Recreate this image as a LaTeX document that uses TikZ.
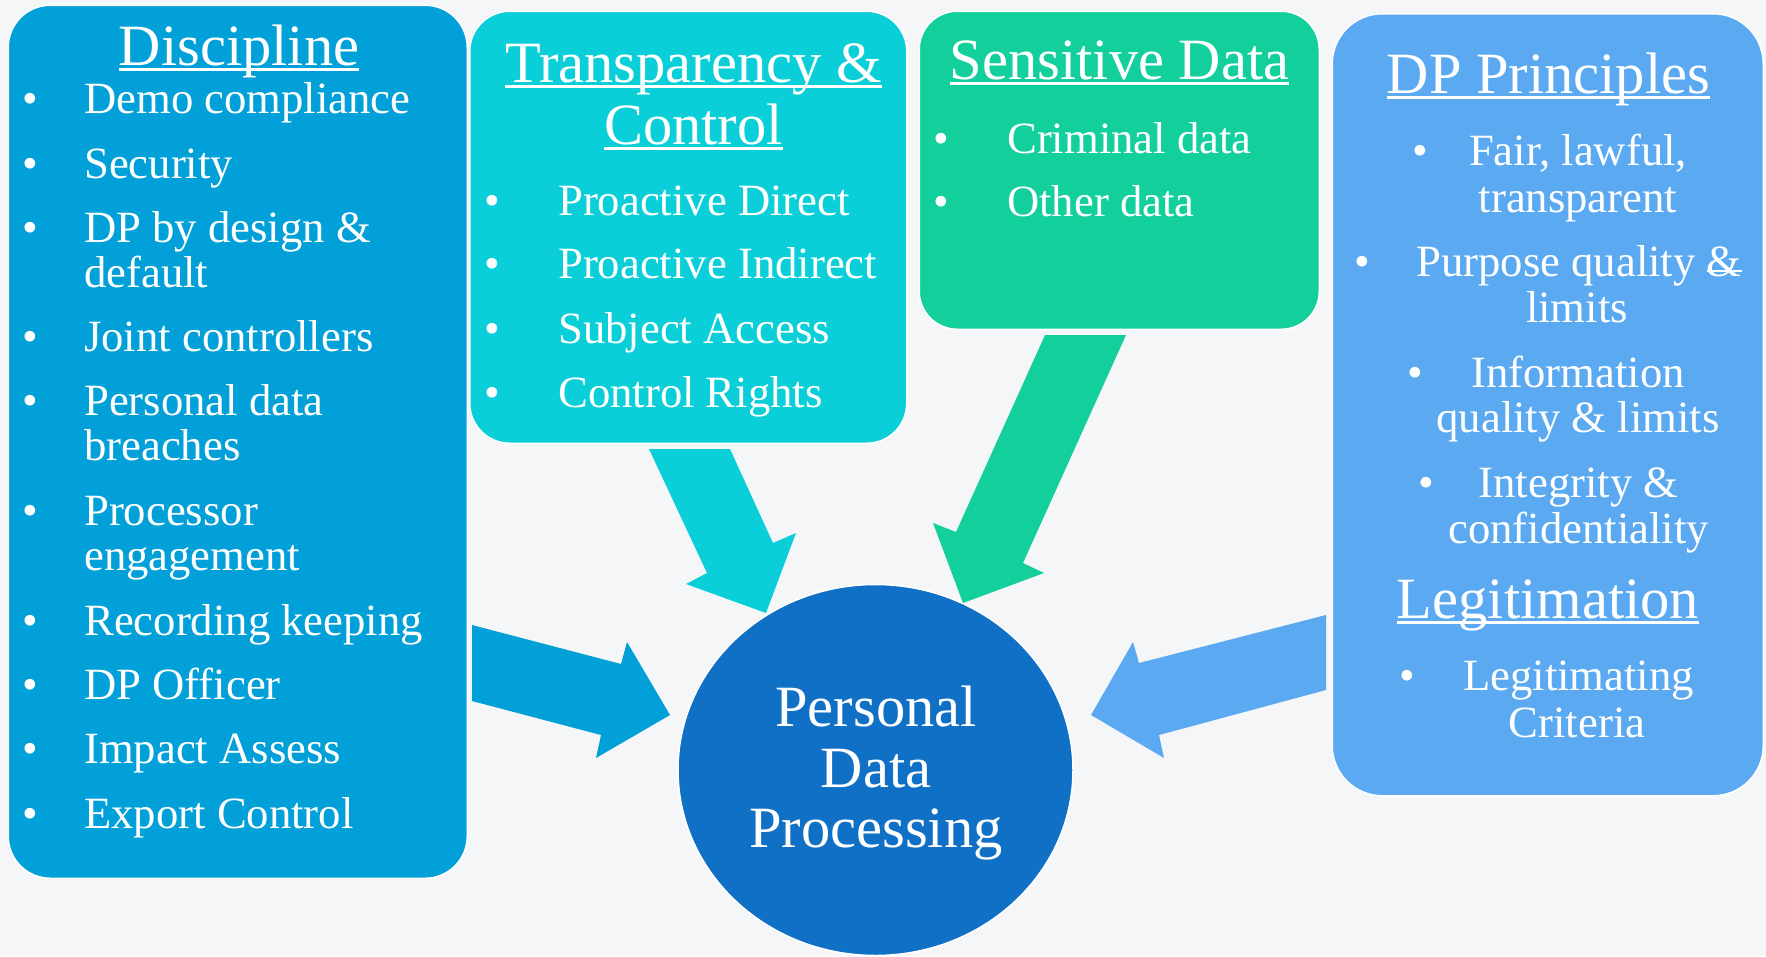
\documentclass[tikz,border=0pt]{standalone}
\usepackage{fontspec}
\setmainfont{Liberation Serif}
\usetikzlibrary{shapes.geometric}
\definecolor{bgc}{HTML}{F5F6F7}
\definecolor{cdisc}{HTML}{02A0D8}
\definecolor{ctrans}{HTML}{0BCFD8}
\definecolor{csens}{HTML}{12CF9B}
\definecolor{cprin}{HTML}{5BAAF1}
\definecolor{ccirc}{HTML}{1070C6}
\newcommand\myul[1]{\setbox0\hbox{#1}\rlap{\rule[-0.095em]{\wd0}{0.036em}}\box0}
\newcommand\mystrike[1]{\setbox0\hbox{#1}\rlap{\rule[0.1em]{\wd0}{0.04em}}\box0}
\begin{document}
\begin{tikzpicture}[x=1pt,y=-1pt,
  box/.style={rectangle, draw=white, line width=1.5pt, rounded corners=42pt, inner sep=0pt, anchor=north west},
  itemtxt/.style={text=white, inner sep=0pt, font=\fontsize{44.7}{45}\selectfont},
  titletxt/.style={text=white, inner sep=0pt, font=\fontsize{58.5}{62}\selectfont, anchor=base},
  bul/.style={itemtxt, anchor=base},
  lw/.style={itemtxt, anchor=base west},
  lc/.style={itemtxt, anchor=base},
  blockarrow/.style={draw=none}]
\useasboundingbox (0,0) rectangle (1766,956);
\fill[bgc] (0,0) rectangle (1766,956);

% boxes
\node[box, fill=cdisc, minimum width=459pt, minimum height=873pt] (disc) at (7.5,4.5) {};
\node[box, fill=ctrans, minimum width=437pt, minimum height=432pt, rounded corners=40pt] (trans) at (469,10.5) {};
\node[box, fill=csens, minimum width=400pt, minimum height=318pt, rounded corners=38pt] (sens) at (918.5,10.5) {};
\node[box, fill=cprin, minimum width=431pt, minimum height=782pt, rounded corners=50pt] (prin) at (1331.5,13) {};
\node[ellipse, fill=ccirc, draw=white, line width=1.5pt, minimum width=395pt, minimum height=371pt, inner sep=0pt] (pdp) at (875.5,770) {};

% block arrows
\coordinate (a1) at (472,625);
\fill[cdisc] (a1) -- (621,664) -- (627,642) -- (670,715) -- (596,758) -- (601,735) -- (472,701) -- cycle;
\coordinate (a2) at (649,449);
\fill[ctrans] (a2) -- (707,573) -- (686,584) -- (766,613) -- (796,533) -- (773,543) -- (730,449) -- cycle;
\coordinate (a3) at (1045,335);
\fill[csens] (a3) -- (956,532) -- (933,523) -- (963,603) -- (1044,573) -- (1023,563) -- (1126,335) -- cycle;
\coordinate (a4) at (1326,615);
\fill[cprin] (a4) -- (1139,663) -- (1133,642) -- (1091,715) -- (1164,758) -- (1159,735) -- (1326,690) -- cycle;

% Discipline
\node[titletxt] (t1) at (239,65) {\myul{Discipline}};
\foreach \y/\t [count=\i] in {113/Demo compliance, 178/Security, 242/DP by design \&, 351/Joint controllers, 415/Personal data, 525/Processor, 635/Recording keeping, 699/DP Officer, 763/Impact Assess, 828/Export Control}{
  \node[bul] (db\i) at (30,\y) {•};
  \node[lw] (dt\i) at (84,\y) {\t};
}
\node[lw] (dt3b) at (84,287) {default};
\node[lw] (dt5b) at (84,460) {breaches};
\node[lw] (dt6b) at (84,570) {engagement};

% Transparency & Control
\node[titletxt] (t2a) at (693.5,82) {\myul{Transparency \&}};
\node[titletxt] (t2b) at (693.5,144) {\myul{Control}};
\foreach \y/\t [count=\i] in {215/Proactive Direct, 278/Proactive Indirect, 343/Subject Access, 407/Control Rights}{
  \node[bul] (tb\i) at (492,\y) {•};
  \node[lw] (tt\i) at (558,\y) {\t};
}

% Sensitive Data
\node[titletxt] (t3) at (1119.5,79) {\myul{Sensitive Data}};
\foreach \y/\t [count=\i] in {153/Criminal data, 216/Other data}{
  \node[bul] (sb\i) at (941,\y) {•};
  \node[lw] (st\i) at (1007,\y) {\t};
}

% DP Principles
\node[titletxt] (t4) at (1548.5,93) {\myul{DP Principles}};
\node[bul] (pb1) at (1420,165) {•};
\node[lc] (pt1a) at (1578,165) {Fair, lawful,};
\node[lc] (pt1b) at (1578,212) {transparent};
\node[bul] (pb2) at (1362,276) {•};
\node[lc] (pt2a) at (1579,276) {Purpose quality \mystrike{\&}};
\node[lc] (pt2b) at (1577,322) {limits};
\node[bul] (pb3) at (1415,387) {•};
\node[lc] (pt3a) at (1578,387) {Information};
\node[lc] (pt3b) at (1578,432) {quality \& limits};
\node[bul] (pb4) at (1426,497) {•};
\node[lc] (pt4a) at (1578.5,497) {Integrity \&};
\node[lc] (pt4b) at (1578.5,543) {confidentiality};
\node[titletxt] (t5) at (1548,618) {\myul{Legitimation}};
\node[bul] (pb5) at (1407,690) {•};
\node[lc] (pt5a) at (1578.5,690) {Legitimating};
\node[lc] (pt5b) at (1577,737) {Criteria};

% circle text
\node[titletxt] (c1) at (876,726) {Personal};
\node[titletxt] (c2) at (876,787) {Data};
\node[titletxt] (c3) at (876,847) {Processing};
\end{tikzpicture}
\end{document}
